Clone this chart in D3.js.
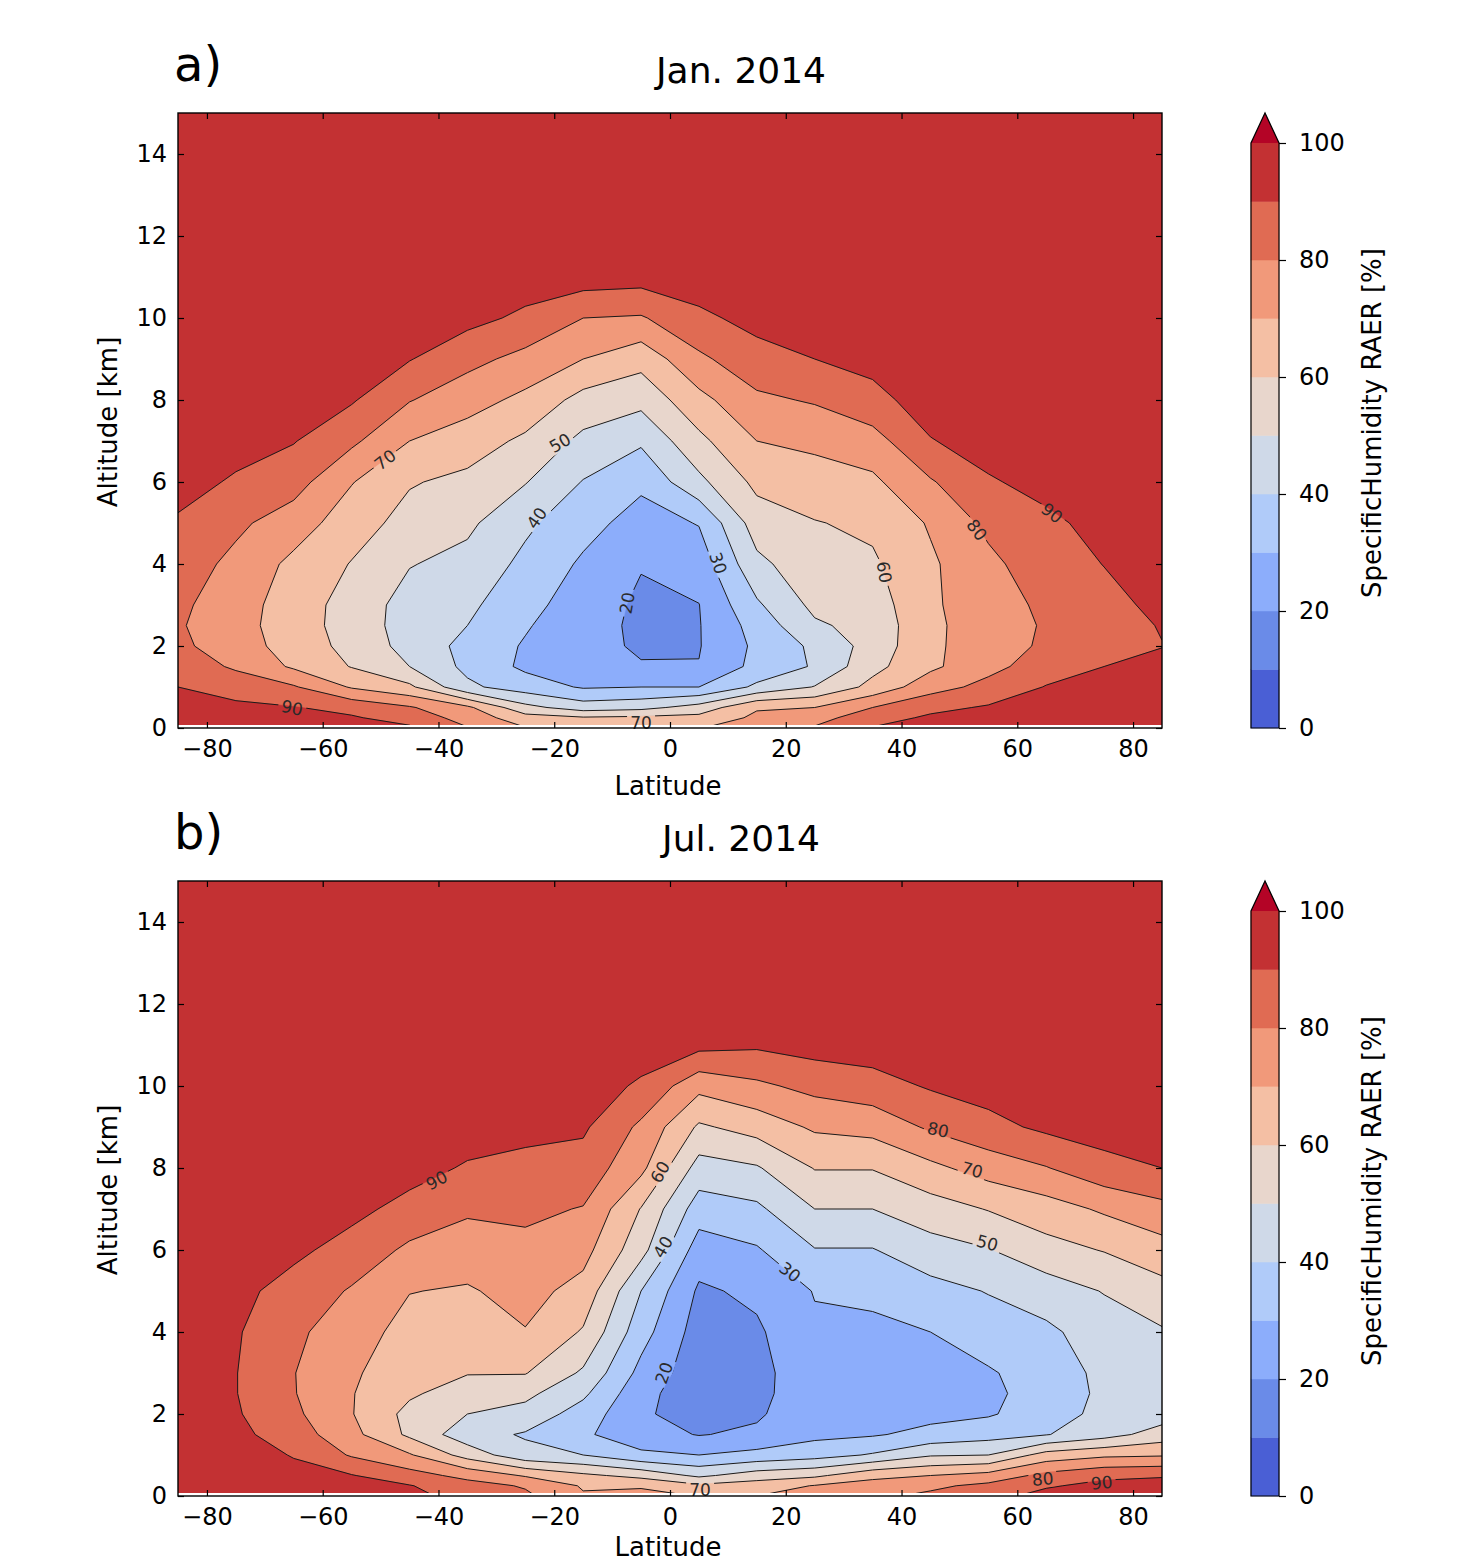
<!DOCTYPE html>
<html lang="en">
<head>
<meta charset="utf-8">
<title>SpecificHumidity RAER</title>
<script src="https://cdn.jsdelivr.net/npm/d3@7"></script>
<style>
  body { margin: 0; background: #fff; }
  svg { display: block; font-family: "DejaVu Sans", sans-serif; }
</style>
</head>
<body>
<div id="root"></div>
<script>
// grid: latitude columns, altitude rows (km)
var lats = [-85, -75, -65, -55, -45, -35, -25, -15, -5, 5, 15, 25, 35, 45, 55, 65, 75, 85];
var alts = [0, 0.25, 0.5, 1, 1.5, 2, 2.5, 3, 4, 5, 6, 7, 8, 9, 10, 11, 12, 15];

var levels = [0, 10, 20, 30, 40, 50, 60, 70, 80, 90, 100];
var lineLevels = [10, 20, 30, 40, 50, 60, 70, 80, 90];
var levelColors = ["#4a5fd5", "#6a8be8", "#8cadfb", "#b0cbf9", "#cfd9e8",
                   "#e8d6cc", "#f4bfa4", "#f1997a", "#e06b53", "#c33133", "#b40426"];

var xTicks = [-80, -60, -40, -20, 0, 20, 40, 60, 80];
var yTicks = [0, 2, 4, 6, 8, 10, 12, 14];
var cbarTicks = [0, 20, 40, 60, 80, 100];

// Jan. 2014, one row per latitude, values up the altitude list
var janValues = [
  /* -85 */ [95, 94, 92.5, 90, 86, 82, 81, 82, 85, 89, 93, 95, 96, 97, 97, 98, 98, 99],
  /* -75 */ [94, 93, 92, 86, 78.5, 75, 74, 74.5, 77.5, 82, 89, 93, 95, 96, 97, 98, 98, 99],
  /* -65 */ [94, 93, 90.5, 81, 68.5, 65.5, 64.5, 65, 67.5, 75, 84, 90.5, 94, 96, 97, 98, 98, 99],
  /* -55 */ [93, 91, 87, 69, 59.5, 57, 56, 56, 59.5, 64.5, 70.5, 82, 91, 95, 97, 98, 98, 99],
  /* -45 */ [91.5, 86, 81, 62, 50, 46.5, 45.5, 46, 50.5, 56.5, 60.8, 70, 80.5, 90.5, 95, 97, 98, 99],
  /* -35 */ [80.5, 76, 72, 42, 37.5, 37, 40, 42, 47, 52, 57.5, 65, 74, 83, 93, 96.5, 98, 99],
  /* -25 */ [70.5, 64, 53, 35, 28, 29, 31, 33.5, 37.5, 42, 50.5, 58, 67.5, 77, 88, 95, 97.5, 99],
  /* -15 */ [71, 61, 45, 29, 24, 22.5, 23, 24.5, 28.5, 33.5, 39.5, 47.5, 56.5, 70, 80, 95, 97, 99],
  /*  -5 */ [72.5, 62, 47, 30, 20.5, 19, 18.5, 18.5, 20.5, 26, 32, 41.5, 53, 63.5, 79, 94, 97, 99],
  /*   5 */ [69.5, 63, 54, 30, 20.3, 19.5, 19.5, 19.8, 24.5, 30.5, 47.5, 57.5, 67, 78, 88, 95, 97.5, 99],
  /*  15 */ [76, 72, 69, 42, 33, 32, 34, 38.5, 47.5, 55, 62.5, 70, 78, 86.5, 93, 96.5, 98, 99],
  /*  25 */ [81, 76, 70, 50.5, 41, 42, 48.5, 52.5, 56.5, 59.5, 66, 72, 81, 90, 95, 97, 98, 99],
  /*  35 */ [90.5, 86, 80, 63, 57, 54, 53.5, 55, 58.5, 62, 68, 76, 87, 93, 96, 97.5, 98, 99],
  /*  45 */ [93, 91.5, 87.5, 76, 68, 68, 68, 68.5, 68.5, 71, 79, 89.5, 94.5, 96.5, 97, 98, 98, 99],
  /*  55 */ [95, 93.5, 91, 83, 77, 75.5, 75, 75.5, 77.5, 82.5, 89, 94, 96, 97, 97.5, 98, 98.5, 99],
  /*  65 */ [96, 95, 93.5, 90.5, 85, 81.5, 81, 82, 86, 88, 93, 95.5, 96.5, 97, 98, 98, 98.5, 99],
  /*  75 */ [97, 96, 95, 93, 90, 87, 86.5, 87.5, 90.2, 93, 95, 96, 97, 97.5, 98, 98, 98.5, 99],
  /*  85 */ [97.5, 97, 96, 94, 92, 89.8, 90.5, 92, 94, 95.5, 96.5, 97, 97.5, 98, 98, 98.5, 98.5, 99]
];

// Jul. 2014
var julValues = [
  /* -85 */ [97, 97, 96.5, 96, 95.5, 95, 95, 95, 95.5, 96, 96.5, 97, 97.5, 98, 98, 98.5, 98.5, 99],
  /* -75 */ [96, 95.5, 95, 94, 92.5, 91, 90.3, 90.3, 91, 92.5, 94, 95, 96, 97, 97.5, 98, 98.5, 99],
  /* -65 */ [95, 94, 92.5, 89.5, 85, 82, 80.5, 80.3, 82, 86.5, 92, 94.5, 96, 97, 97.5, 98, 98.5, 99],
  /* -55 */ [94, 92.5, 90.5, 79, 73, 70.5, 70.5, 71.5, 74.5, 79, 86.5, 92.5, 95, 96.5, 97.5, 98, 98.5, 99],
  /* -45 */ [91.5, 90.5, 84, 71, 58, 57, 61.5, 63.5, 66.5, 70.3, 78, 87, 93.5, 96, 97, 98, 98.5, 99],
  /* -35 */ [88, 84, 77, 56, 44, 50, 55, 60.5, 64.5, 69, 75, 81.5, 89, 94.5, 96.5, 97.5, 98, 99],
  /* -25 */ [82, 79, 69, 43, 39, 46.5, 52.5, 60.5, 69.5, 73.5, 77.5, 82, 87.5, 92.5, 95.5, 97, 98, 99],
  /* -15 */ [71, 69, 62, 40, 31.5, 35.5, 42, 48.5, 59, 66.5, 73.5, 79.5, 86, 91.5, 95, 97, 98, 99],
  /*  -5 */ [74, 68.5, 57, 32, 24, 21.5, 23, 27, 34, 40, 53.5, 59.5, 72.5, 78, 88.5, 95, 97.5, 99],
  /*   5 */ [69.5, 62, 48, 30, 19.5, 15.5, 14, 14, 15.5, 18.5, 25, 35, 46, 58.5, 73, 93, 97, 99],
  /*  15 */ [70, 65, 55, 33, 22, 18.5, 17, 16.5, 18.5, 22, 29, 38, 49, 64, 78, 91.5, 97, 99],
  /*  25 */ [74, 70.5, 58, 36, 27.5, 27.5, 27, 27.5, 28.5, 30.5, 39.5, 50, 60.5, 71.5, 83, 94, 97.5, 99],
  /*  35 */ [78, 74.5, 67, 41, 29, 26, 25.5, 26, 28, 32, 39.5, 50, 60.5, 73.5, 86, 95, 97.5, 99],
  /*  45 */ [82, 78, 70, 49, 33, 27, 25, 24.5, 30, 36.5, 46, 55.5, 67.5, 81.5, 91, 96, 98, 99],
  /*  55 */ [87, 82.5, 73.5, 50, 36, 29, 28, 29, 35, 40.5, 49.5, 60.5, 74.5, 87, 94, 97, 98, 99],
  /*  65 */ [93, 89, 83, 64, 39.5, 35, 34, 34.5, 38, 45, 56.5, 65.5, 79.5, 92, 96, 97.5, 98, 99],
  /*  75 */ [95, 92.5, 88, 68, 46, 43, 42, 42.5, 45, 50.5, 60.5, 71.5, 87, 94, 96.5, 97.5, 98, 99],
  /*  85 */ [96, 94, 89, 69, 54.5, 45, 43.5, 44.5, 49, 56.5, 66, 77, 90, 95.5, 97, 98, 98, 99]
];

// inline contour labels (value, where it sits in lat/alt, rotation)
var janLabels = [
  {v: 70, lat: -49.2, alt: 6.54, ang: -38},
  {v: 50, lat: -19.0, alt: 6.95, ang: -30},
  {v: 40, lat: -23.0, alt: 5.12, ang: -55},
  {v: 20, lat: -7.4, alt: 3.05, ang: -80},
  {v: 30, lat: 8.3, alt: 4.02, ang: 72},
  {v: 60, lat: 37.0, alt: 3.8, ang: 80},
  {v: 80, lat: 53.0, alt: 4.83, ang: 52},
  {v: 90, lat: 66.0, alt: 5.24, ang: 38},
  {v: 90, lat: -65.3, alt: 0.49, ang: 12},
  {v: 70, lat: -5.0, alt: 0.12, ang: 0}
];
var julLabels = [
  {v: 90, lat: -40.3, alt: 7.7, ang: -28},
  {v: 60, lat: -1.7, alt: 7.9, ang: -60},
  {v: 40, lat: -1.2, alt: 6.07, ang: -60},
  {v: 20, lat: -1.0, alt: 3.0, ang: -70},
  {v: 30, lat: 20.7, alt: 5.46, ang: 38},
  {v: 80, lat: 46.3, alt: 8.93, ang: 12},
  {v: 70, lat: 52.2, alt: 7.95, ang: 15},
  {v: 50, lat: 54.8, alt: 6.17, ang: 15},
  {v: 70, lat: 5.2, alt: 0.15, ang: 0},
  {v: 80, lat: 64.4, alt: 0.41, ang: -5},
  {v: 90, lat: 74.6, alt: 0.32, ang: -5}
];

var W = 1470, H = 1563;
var svg = d3.select("#root").append("svg").attr("width", W).attr("height", H);
var defs = svg.append("defs");

var panels = [
  {id: "a", letter: "a)", title: "Jan. 2014", cols: janValues, labels: janLabels, top: 113, bottom: 728},
  {id: "b", letter: "b)", title: "Jul. 2014", cols: julValues, labels: julLabels, top: 881, bottom: 1496}
];

var nx = lats.length, ny = alts.length;
// grid index -> lat / alt (d3.contours puts sample i at i + 0.5)
var colLat = d3.scaleLinear().domain([0.5, nx - 0.5]).range([lats[0], lats[nx - 1]]);
var rowAlt = d3.scaleLinear().domain(alts.map(function(a, j) { return j + 0.5; })).range(alts);

panels.forEach(function(p) {
  var x = d3.scaleLinear().domain([-85, 85]).range([178, 1162]);
  var y = d3.scaleLinear().domain([0, 15]).range([p.bottom, p.top]);

  var grid = new Array(nx * ny);
  p.cols.forEach(function(col, i) {
    col.forEach(function(v, j) { grid[j * nx + i] = v; });
  });

  var contours = d3.contours().size([nx, ny]).thresholds(levels)(grid);
  var proj = d3.geoTransform({
    point: function(px, py) { this.stream.point(x(colLat(px)), y(rowAlt(py))); }
  });
  var path = d3.geoPath(proj);

  defs.append("clipPath").attr("id", "clip-" + p.id)
    .append("rect")
      .attr("x", x(-85)).attr("y", y(15))
      .attr("width", x(85) - x(-85)).attr("height", y(0) - y(15) - 3);

  var mask = defs.append("mask").attr("id", "mask-" + p.id)
      .attr("maskUnits", "userSpaceOnUse")
      .attr("x", 0).attr("y", 0).attr("width", W).attr("height", H);
  mask.append("rect").attr("width", W).attr("height", H).attr("fill", "white");
  mask.selectAll("rect.hole").data(p.labels).join("rect")
      .attr("class", "hole")
      .attr("x", -14).attr("y", -8).attr("width", 28).attr("height", 16)
      .attr("transform", function(d) { return "translate(" + x(d.lat) + "," + y(d.alt) + ") rotate(" + d.ang + ")"; })
      .attr("fill", "black");

  svg.append("g")
      .attr("clip-path", "url(#clip-" + p.id + ")")
    .selectAll("path")
    .data(contours)
    .join("path")
      .attr("d", path)
      .attr("fill", function(d, i) { return levelColors[i]; })
      .attr("stroke", function(d, i) { return levelColors[i]; })
      .attr("stroke-width", 0.5);

  svg.append("g")
      .attr("clip-path", "url(#clip-" + p.id + ")")
      .attr("mask", "url(#mask-" + p.id + ")")
    .selectAll("path")
    .data(contours.filter(function(c) { return lineLevels.indexOf(c.value) >= 0; }))
    .join("path")
      .attr("d", path)
      .attr("fill", "none")
      .attr("stroke", "#1a1a1a")
      .attr("stroke-width", 1);

  svg.append("g")
    .selectAll("text")
    .data(p.labels)
    .join("text")
      .attr("transform", function(d) { return "translate(" + x(d.lat) + "," + y(d.alt) + ") rotate(" + d.ang + ")"; })
      .attr("text-anchor", "middle")
      .attr("dy", "0.35em")
      .attr("font-size", 17)
      .attr("fill", "#2a2a2a")
      .text(function(d) { return d.v; });

  // axes, ticks pointing inward
  var gb = svg.append("g").attr("transform", "translate(0," + p.bottom + ")")
      .call(d3.axisBottom(x).tickValues(xTicks).tickSizeInner(-6).tickSizeOuter(0).tickPadding(12));
  var gt = svg.append("g").attr("transform", "translate(0," + p.top + ")")
      .call(d3.axisTop(x).tickValues(xTicks).tickSizeInner(-6).tickSizeOuter(0).tickFormat(""));
  var gl = svg.append("g").attr("transform", "translate(178,0)")
      .call(d3.axisLeft(y).tickValues(yTicks).tickSizeInner(-6).tickSizeOuter(0).tickPadding(11));
  var gr = svg.append("g").attr("transform", "translate(1162,0)")
      .call(d3.axisRight(y).tickValues(yTicks).tickSizeInner(-6).tickSizeOuter(0).tickFormat(""));
  [gb, gt, gl, gr].forEach(function(g) {
    g.attr("font-family", "DejaVu Sans, sans-serif").attr("font-size", 24);
    g.select(".domain").remove();
    g.selectAll(".tick line").attr("stroke", "#000").attr("stroke-width", 1.2);
    g.selectAll(".tick text").attr("fill", "#000");
  });

  svg.append("rect")
      .attr("x", x(-85)).attr("y", y(15))
      .attr("width", x(85) - x(-85)).attr("height", y(0) - y(15))
      .attr("fill", "none").attr("stroke", "#000").attr("stroke-width", 1.4);

  svg.append("text")
      .attr("x", 668).attr("y", Math.min(p.bottom + 67, H - 7))
      .attr("text-anchor", "middle").attr("font-size", 26)
      .text("Latitude");
  svg.append("text")
      .attr("transform", "translate(117," + (p.top + 309) + ") rotate(-90)")
      .attr("text-anchor", "middle").attr("font-size", 26)
      .text("Altitude [km]");
  svg.append("text")
      .attr("x", 741).attr("y", p.top - 30)
      .attr("text-anchor", "middle").attr("font-size", 36)
      .text(p.title);
  svg.append("text")
      .attr("x", 174).attr("y", p.top - 32)
      .attr("font-size", 48)
      .text(p.letter);

  // colour bar with extend-max triangle
  var cb = d3.scaleLinear().domain([0, 100]).range([p.bottom, p.top + 30]);
  var cbx0 = 1251, cbx1 = 1279;
  svg.append("g")
    .selectAll("rect")
    .data(levels.slice(0, -1))
    .join("rect")
      .attr("x", cbx0).attr("width", cbx1 - cbx0)
      .attr("y", function(d) { return cb(d + 10); })
      .attr("height", function(d) { return cb(d) - cb(d + 10); })
      .attr("fill", function(d, i) { return levelColors[i]; })
      .attr("stroke", function(d, i) { return levelColors[i]; })
      .attr("stroke-width", 0.5);
  var tri = d3.path();
  tri.moveTo(cbx0, cb(100));
  tri.lineTo((cbx0 + cbx1) / 2, cb(100) - 30);
  tri.lineTo(cbx1, cb(100));
  tri.closePath();
  svg.append("path").attr("d", tri.toString()).attr("fill", levelColors[10]);
  var outline = d3.path();
  outline.moveTo(cbx0, cb(0));
  outline.lineTo(cbx0, cb(100));
  outline.lineTo((cbx0 + cbx1) / 2, cb(100) - 30);
  outline.lineTo(cbx1, cb(100));
  outline.lineTo(cbx1, cb(0));
  outline.closePath();
  svg.append("path").attr("d", outline.toString())
      .attr("fill", "none").attr("stroke", "#000").attr("stroke-width", 1.2);

  var gc = svg.append("g").attr("transform", "translate(" + cbx1 + ",0)")
      .call(d3.axisRight(cb).tickValues(cbarTicks).tickSize(7).tickPadding(13).tickFormat(d3.format("d")));
  gc.attr("font-family", "DejaVu Sans, sans-serif").attr("font-size", 24);
  gc.select(".domain").remove();
  gc.selectAll(".tick line").attr("stroke", "#000").attr("stroke-width", 1.2);
  gc.selectAll(".tick text").attr("fill", "#000");

  svg.append("text")
      .attr("transform", "translate(1381," + (p.top + 310) + ") rotate(-90)")
      .attr("text-anchor", "middle").attr("font-size", 26)
      .text("SpecificHumidity RAER [%]");
});
</script>
</body>
</html>
